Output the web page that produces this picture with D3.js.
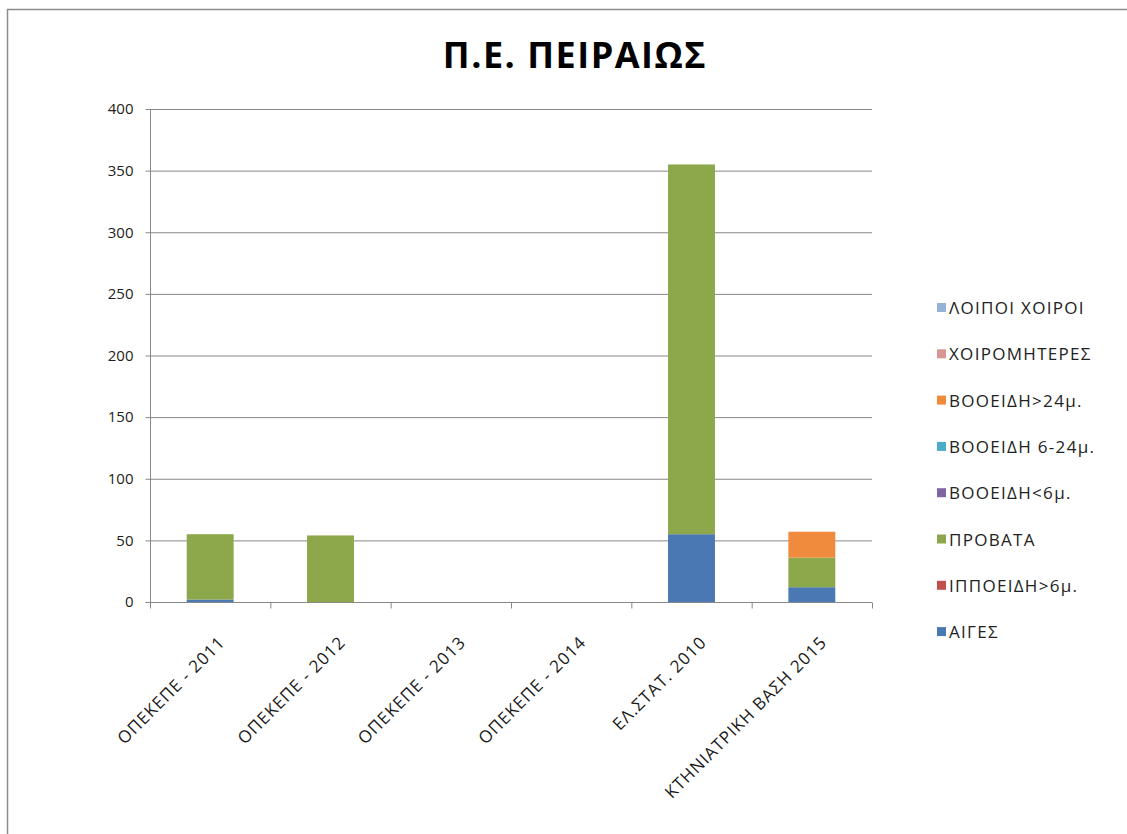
<!DOCTYPE html>
<html><head><meta charset="utf-8">
<script src="https://cdn.jsdelivr.net/npm/d3@7"></script>
<style>body{margin:0;background:#fff}svg{display:block}</style>
</head><body>
<svg id="c" width="1127" height="834"></svg>
<script>
const categories = ["ΟΠΕΚΕΠΕ - 2011","ΟΠΕΚΕΠΕ - 2012","ΟΠΕΚΕΠΕ - 2013","ΟΠΕΚΕΠΕ - 2014","ΕΛ.ΣΤΑΤ. 2010","ΚΤΗΝΙΑΤΡΙΚΗ ΒΑΣΗ 2015"];
const seriesNames = ["ΑΙΓΕΣ","ΙΠΠΟΕΙΔΗ>6μ.","ΠΡΟΒΑΤΑ","ΒΟΟΕΙΔΗ<6μ.","ΒΟΟΕΙΔΗ 6-24μ.","ΒΟΟΕΙΔΗ>24μ.","ΧΟΙΡΟΜΗΤΕΡΕΣ","ΛΟΙΠΟΙ ΧΟΙΡΟΙ"];
const aiges      = [2, 0, 0, 0, 55, 12];
const ippoeidi   = [0, 0, 0, 0, 0, 0];
const provata    = [53, 54, 0, 0, 300, 24];
const vooLt6     = [0, 0, 0, 0, 0, 0];
const voo6to24   = [0, 0, 0, 0, 0, 0];
const vooGt24    = [0, 0, 0, 0, 0, 21];
const xoiromit   = [0, 0, 0, 0, 0, 0];
const loipoi     = [0, 0, 0, 0, 0, 0];
const yTicks = [0,50,100,150,200,250,300,350,400];
const colors = ["#4A78B2","#C0504D","#8CA84A","#8064A2","#4BACC6","#F08A3C","#D99694","#95B3D7"];

const seriesValues = [aiges, ippoeidi, provata, vooLt6, voo6to24, vooGt24, xoiromit, loipoi];
const table = categories.map((c,i)=>{const o={cat:c}; seriesNames.forEach((s,j)=>o[s]=seriesValues[j][i]); return o;});
const stacked = d3.stack().keys(seriesNames)(table);

const svg = d3.select("#c");
const font = "Open Sans, sans-serif";
// frame
svg.append("rect").attr("x",7.5).attr("y",9.5).attr("width",1130).attr("height",840)
  .attr("fill","none").attr("stroke","#8c8c8c").attr("stroke-width",1.5);

const L=150,R=872,T=109,B=602;
const x = d3.scaleBand().domain(categories).range([L,R]).paddingInner(0.61).paddingOuter(0.305);
const xb = d3.scaleBand().domain(categories).range([L,R]);
const y = d3.scaleLinear().domain([0,400]).range([B,T]);

// gridlines
svg.append("g").selectAll("line").data(yTicks.filter(d=>d>0)).join("line")
  .attr("x1",L).attr("x2",R).attr("y1",d=>y(d)+0.5).attr("y2",d=>y(d)+0.5)
  .attr("stroke","#878787").attr("stroke-width",1);

// bars
svg.append("g").selectAll("g").data(stacked).join("g")
  .attr("fill",(d,i)=>colors[i])
  .selectAll("rect").data(d=>d).join("rect")
  .attr("x",d=>x(d.data.cat)).attr("width",x.bandwidth())
  .attr("y",d=>y(d[1])).attr("height",d=>y(d[0])-y(d[1]));

// y axis
const ya = svg.append("g").attr("transform",`translate(${L+0.5},0)`)
  .call(d3.axisLeft(y).tickValues(yTicks).tickSize(5).tickPadding(12));
ya.selectAll("path,line").attr("stroke","#878787");
ya.select("path").attr("d",`M0,${T}V${B}`);
ya.selectAll("text").attr("font-family",font).attr("font-size","15px").attr("fill","#222");

// x axis
const xa = svg.append("g").attr("transform",`translate(0,${B+0.5})`);
xa.append("line").attr("x1",L).attr("x2",R).attr("stroke","#878787");
const bounds = categories.map(c=>xb(c)).concat([R]);
xa.selectAll("line.t").data(bounds).join("line").attr("class","t")
  .attr("x1",d=>d+0.5).attr("x2",d=>d+0.5).attr("y1",0).attr("y2",6).attr("stroke","#878787");
xa.selectAll("text").data(categories).join("text")
  .attr("transform",d=>`translate(${xb(d)+xb.bandwidth()/2+16},${41}) rotate(-45)`)
  .attr("text-anchor","end").attr("font-family",font).attr("font-size","17px")
  .attr("fill","#1a1a1a").attr("letter-spacing","1").text(d=>d);

// title
svg.append("text").attr("x",575).attr("y",68).attr("text-anchor","middle")
  .attr("font-family",font).attr("font-weight","bold").attr("font-size","36px")
  .attr("letter-spacing","1.5")
  .attr("fill","#000").text("Π.Ε. ΠΕΙΡΑΙΩΣ");

// legend
const legendOrder = seriesNames.map((s,i)=>({s,i})).reverse();
const lg = svg.append("g").selectAll("g").data(legendOrder).join("g")
  .attr("transform",(d,k)=>`translate(937,${308+k*46.3})`);
lg.append("rect").attr("x",0).attr("y",-5).attr("width",9).attr("height",9).attr("fill",d=>colors[d.i]);
lg.append("text").attr("x",12).attr("y",6).attr("font-family",font).attr("font-size","17px")
  .attr("letter-spacing","1.3").attr("fill","#222").text(d=>d.s);
</script>
</body></html>
